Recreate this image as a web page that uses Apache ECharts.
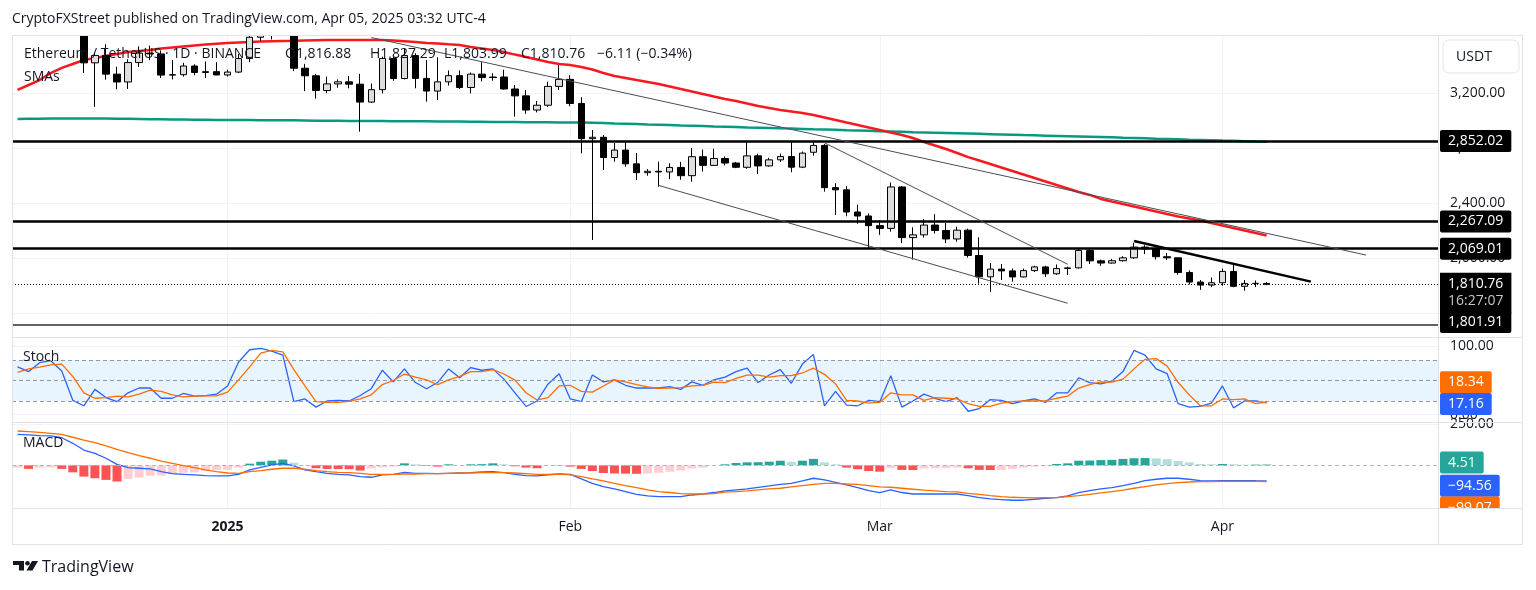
<!DOCTYPE html>
<html><head><meta charset="utf-8">
<script src="https://cdn.jsdelivr.net/npm/echarts@6/dist/echarts.min.js"></script>
<style>html,body{margin:0;padding:0;background:#fff}#c{width:1536px;height:590px}</style>
</head><body><div id="c"></div><script>
// ---------- data ----------
const startDate = '2024-12-13';
const dayCount = 129; // Dec 13 2024 .. Apr 20 2025 (last 15 days empty space)
const dates = [];
for (let k = 0, t = Date.parse(startDate + 'T00:00:00Z'); k < dayCount; k++, t += 86400000) dates.push(new Date(t).toISOString().slice(0, 10));

const openP = [3882,3907,3872,3959,3985,3874,3628,3420,3474,3338, 3281,3422,3491,3485,3331,3334,3397,3350,3356,3332, 3353,3451,3606,3657,3634,3687,3381,3326,3219,3267, 3282,3265,3135,3225,3452,3306,3473,3307,3215,3282, 3327,3241,3338,3313,3317,3230,3180,3077,3112,3249, 3300,3125,2869,2879,2732,2786,2686,2622,2632,2627, 2660,2600,2738,2675,2725,2692,2661,2744,2671,2715, 2739,2662,2770,2820,2513,2497,2336,2307,2237,2217, 2518,2150,2170,2241,2202,2140,2204,2020,1865,1921, 1908,1864,1910,1937,1887,1925,1930,2057,1981,1965, 1982,2003,2081,2068,2011,2003,1896,1827,1805,1822, 1904,1796,1817,1816.88];
const highP = [3950,3942,3970,4107,4040,3930,3705,3495,3555,3392, 3446,3540,3545,3510,3440,3420,3410,3430,3425,3370, 3485,3620,3670,3675,3745,3700,3413,3340,3320,3300, 3325,3340,3270,3465,3475,3525,3490,3440,3460,3365, 3365,3350,3425,3345,3370,3259,3223,3143,3283,3404, 3330,3170,2932,2895,2837,2847,2765,2648,2702,2690, 2700,2801,2790,2795,2740,2700,2845,2760,2730,2760, 2845,2775,2850,2830,2545,2525,2390,2325,2275,2550, 2525,2225,2285,2320,2258,2229,2215,2152,1965,1958, 1925,1925,1945,1945,1955,1939,2068,2070,1990,1995, 2015,2112,2095,2077,2038,2005,1912,1842,1860,1925, 1951,1842,1838,1827.29];
const lowP = [3860,3840,3850,3930,3880,3616,3346,3100,3298,3228, 3230,3390,3440,3310,3300,3320,3330,3310,3330,3320, 3346,3425,3580,3590,3620,3360,3215,3160,3200,3240, 3235,2920,3130,3198,3290,3300,3235,3138,3150,3255, 3230,3198,3285,3290,3225,3029,3050,3060,3100,3223, 3105,2762,2133,2641,2702,2665,2569,2600,2520,2575, 2570,2556,2630,2670,2675,2655,2650,2612,2665,2700, 2625,2655,2745,2484,2315,2305,2250,2074,2170,2193, 2110,1990,2150,2180,2110,2120,2005,1815,1756,1842, 1830,1860,1900,1864,1880,1878,1925,1958,1945,1960, 1975,1995,2030,1990,1987,1880,1810,1770,1790,1800, 1789,1764,1790,1803.99];
const closeP = [3907,3872,3959,3985,3874,3628,3420,3474,3338,3281, 3422,3491,3485,3331,3334,3397,3350,3356,3332,3353, 3451,3606,3657,3634,3687,3381,3326,3219,3267,3282, 3265,3135,3225,3452,3306,3473,3307,3215,3282,3327, 3241,3338,3313,3317,3230,3180,3077,3112,3249,3300, 3125,2869,2879,2732,2786,2686,2622,2632,2627,2660, 2600,2738,2675,2725,2692,2661,2744,2671,2715,2739, 2662,2764,2820,2513,2497,2336,2307,2237,2217,2518, 2150,2170,2241,2202,2140,2204,2020,1865,1921,1908, 1864,1910,1937,1887,1925,1930,2057,1981,1965,1982, 2003,2081,2068,2011,2003,1896,1827,1805,1822,1904, 1796,1817,1816.88,1810.76];

const smaRed = [3223,3259,3295,3346,3383,3412,3441,3455,3470,3484, 3499,3506,3513,3524,3532,3539,3546,3553,3559,3564, 3568,3571,3575,3577,3579,3580,3582,3584,3586,3586, 3586,3586,3586,3586,3582,3577,3571,3564,3561,3555, 3550,3535,3524,3513,3499,3480,3462,3444,3426,3412, 3404,3390,3372,3346,3324,3310,3295,3281,3266,3248, 3230,3212,3194,3175,3157,3143,3125,3106,3092,3077, 3066,3055,3041,3023,3005,2986,2968,2950,2932,2914, 2896,2874,2845,2819,2794,2765,2735,2710,2685,2659, 2634,2609,2583,2558,2532,2507,2481,2460,2431,2412, 2394,2376,2358,2340,2321,2303,2289,2274,2256,2238, 2220,2202,2183,2165];
const smaGreen = [3012,3013,3014,3015,3015,3016,3016,3015,3015,3014, 3013,3012,3011,3010,3009,3008,3007,3006,3005,3005, 3004,3004,3003,3003,3002,3002,3001,3000,3000,2999, 2998,2998,2997,2997,2996,2996,2995,2995,2994,2993, 2993,2992,2992,2991,2990,2990,2989,2989,2988,2987, 2987,2986,2984,2982,2979,2977,2975,2972,2970,2968, 2965,2963,2961,2958,2956,2954,2951,2949,2947,2944, 2942,2940,2937,2935,2933,2930,2928,2926,2923,2921, 2919,2916,2914,2912,2910,2908,2906,2904,2902,2900, 2898,2895,2893,2891,2889,2887,2885,2883,2881,2879, 2876,2874,2872,2869,2867,2865,2862,2860,2858,2855, 2853,2851,2848,2846];

const stochK = [70,63,76,79,64,21,13,37,25,19, 32,39,39,24,24,31,27,28,30,42, 77,95,97,93,87,19,23,11,20,21, 20,28,38,65,48,67,47,38,47,67, 54,69,65,67,52,32,12,20,45,60, 23,19,58,48,51,43,39,39,39,41, 37,48,43,51,55,63,68,47,58,66, 46,74,88,13,34,14,13,21,19,57, 11,20,30,24,19,25,5,9,22,21, 16,20,23,18,32,32,54,47,45,49, 63,94,87,67,60,16,11,12,17,42, 10,20,20,17.16];
const stochD = [62,67,69.5,73,74,56,32,24,25,27, 26,30,36,34,29,26,27,27.6,27.6,33, 51,70,90,94,92,66,42,19,18,18, 19.5,23,29,44,50,59.5,55,51,44,51, 56,63,63,66,59.5,50.5,32,21.5,25,42, 43,34,33,42,51,48,44,40.5,38.6,39, 39.5,42,43,47.6,47,53,58,58,55,57, 57,61,68,59,45,21,20,17,18,32, 29,29,21,25,24,23,16,12,12,17, 19,20,20,20.5,24,27,39,44,48,47.6, 52,67,81,82,71,47,29,13,13,23, 22,23,16,18.34];

const macdLine = [189,185,181,179,168,134,93,73,43,6, -14,-18,-22,-39,-51,-55,-59,-63,-65,-65, -55,-28,-12,2,12,-4,-28,-39,-49,-55, -59,-69,-73,-59,-55,-43,-49,-49,-51,-49, -47,-45,-41,-39,-45,-55,-63,-65,-59,-53, -55,-83,-110,-130,-144,-160,-177,-187,-191,-191, -191,-181,-175,-166,-156,-150,-144,-134,-126,-116, -110,-95,-79,-89,-104,-120,-136,-154,-166,-150, -166,-175,-175,-175,-175,-175,-185,-197,-205,-209, -213,-213,-207,-201,-197,-187,-166,-154,-144,-136, -124,-110,-93,-85,-79,-79,-85,-93,-95,-93, -93,-93,-94,-94.56];
const signalLine = [209,205,201,195,189,171,154,138,118,97, 77,59,43,26,12,-2,-14,-28,-39,-47, -49,-39,-32,-24,-18,-18,-24,-32,-39,-43, -45,-49,-55,-55,-55,-53,-53,-51,-51,-49, -47,-47,-45,-45,-45,-47,-51,-55,-55,-53, -59,-69,-83,-95,-110,-124,-136,-150,-160,-166, -173,-175,-175,-173,-164,-160,-156,-150,-144,-140, -132,-124,-116,-110,-110,-114,-116,-124,-132,-134, -140,-146,-152,-156,-160,-162,-171,-177,-185,-191, -195,-197,-199,-197,-197,-191,-185,-177,-168,-160, -152,-140,-130,-120,-112,-106,-102,-100,-100,-98, -98,-98,-98.5,-99.07];
const macdHist = [-14,-22,-14,-13,-22,-43,-69,-79,-89,-99, -83,-75,-64,-63,-51,-45,-43,-35,-28,-27, -14,10,22,28,35,16,0,-18,-22,-23, -24,-32,-20,-12,-8,12,6,-4,-8,6, 0,6,7,12,6,-6,-14,-18,-2,2, -8,-22,-35,-47,-50,-51,-52,-50,-45,-39, -32,-20,-14,-2,6,14,18,19,22,28, 22,28,39,18,6,-14,-24,-35,-39,-18, -28,-29,-20,-18,-17,-14,-18,-28,-29,-28, -22,-14,-8,-6,8,12,28,29,32,33, 39,43,44,42,37,26,18,8,6,8, 6,3.5,4,4.51];

const levelValues = [2852.02, 2267.09, 2069.01];
const lowLevelValue = 1515;          // drawn line near the pane bottom
const lowLevelText = '1,801.91';
const lastClose = 1810.76;
const countdown = '16:27:07';
const trendLines = [ // [dayIndex, price] pairs
  [[32, 3604], [122, 2023]],
  [[73, 2839], [95, 1956]],
  [[58, 2529], [95, 1673]],
  [[101, 2125], [117, 1830]]
];
const monthLabels = {'2025-01-01': '{b|2025}', '2025-02-01': 'Feb', '2025-03-01': 'Mar', '2025-04-01': 'Apr'};
const priceTicks = [1600, 2000, 2400, 2800, 3200];
const stochTicks = [0, 100];
const macdTicks = [250];
const header = 'CryptoFXStreet published on TradingView.com, Apr 05, 2025 03:32 UTC-4';
const legendParts = ['Ethereum / TetherUS · 1D · BINANCE', 'O1,816.88', 'H1,827.29', 'L1,803.99', 'C1,810.76', '−6.11 (−0.34%)'];

// ---------- chart ----------
const FONT = '"Open Sans", Roboto, "Noto Sans", sans-serif';
const INK = '#131722';
const chart = echarts.init(document.getElementById('c'), null, {renderer: 'canvas'});
const fmt2 = v => v.toLocaleString('en-US', {minimumFractionDigits: 2, maximumFractionDigits: 2}).replace('-', '−');
const isMonth = (idx, val) => monthLabels[val] !== undefined;

const gridBase = {left: 12, right: 98, outerBoundsMode: 'none'};
const grids = [
  Object.assign({top: 35, height: 302}, gridBase),
  Object.assign({top: 337, height: 85}, gridBase),
  Object.assign({top: 422, height: 86}, gridBase)
];
const xAxes = [0, 1, 2].map(g => ({
  type: 'category', gridIndex: g, data: dates, boundaryGap: true,
  axisLine: {show: false}, axisTick: {show: false, alignWithLabel: true},
  axisLabel: {show: g === 2, interval: isMonth, formatter: v => monthLabels[v] || '', margin: 12,
    color: INK, fontSize: 14, fontFamily: FONT,
    rich: {b: {fontWeight: 'bold', fontSize: 14, color: INK, fontFamily: FONT}}},
  splitLine: {show: true, interval: isMonth, alignWithLabel: true, lineStyle: {color: '#f0f3fa', width: 1}}
}));
function yAx(g, min, max, ticks) {
  return {type: 'value', gridIndex: g, position: 'right', min, max,
    axisLine: {show: false}, axisTick: {show: false, customValues: ticks},
    axisLabel: {customValues: ticks, formatter: v => fmt2(v), color: INK, fontSize: 14, fontFamily: FONT, margin: 12},
    splitLine: {show: true, lineStyle: {color: '#f0f3fa', width: 1}}};
}
const yAxes = [yAx(0, 1427.6, 3622.4, priceTicks), yAx(1, -10.74, 113.66, stochTicks), yAx(2, -260.4, 264, macdTicks)];

const candles = openP.map((o, i) => [o, closeP[i], lowP[i], highP[i]]);
const histData = macdHist.map((v, i) => {
  const p = i ? macdHist[i - 1] : v - 1;
  const c = v >= 0 ? (p < v ? '#26A69A' : '#B2DFDB') : (p < v ? '#FFCDD2' : '#FF5252');
  return {value: v, itemStyle: {color: c}};
});

const priceMarks = [];
levelValues.forEach(v => priceMarks.push({yAxis: v, lineStyle: {color: '#000', width: 2.5, type: 'solid'}}));
priceMarks.push({yAxis: lowLevelValue, lineStyle: {color: '#2a2e39', width: 1.5, type: 'solid'}});
priceMarks.push({yAxis: lastClose, lineStyle: {color: '#000', width: 1, type: [1, 2]}});
trendLines.forEach((t, k) => priceMarks.push([
  {coord: t[0], lineStyle: {color: k === 3 ? '#000' : '#4a4d57', width: k === 3 ? 2.5 : 1, type: 'solid'}},
  {coord: t[1]}
]));

const lineS = (name, data, color, width, xi, yi, z) => ({name, type: 'line', data, xAxisIndex: xi, yAxisIndex: yi,
  showSymbol: false, symbol: 'none', smooth: false, z: z || 3, silent: true,
  lineStyle: {color, width}});

const option = {
  animation: false,
  backgroundColor: '#ffffff',
  textStyle: {fontFamily: FONT},
  grid: grids, xAxis: xAxes, yAxis: yAxes,
  series: [
    lineS('SMA 200', smaGreen, '#089981', 2.5, 0, 0, 2),
    lineS('SMA 50', smaRed, '#F7191F', 2.5, 0, 0, 2),
    {name: 'ETHUSDT', type: 'candlestick', data: candles, xAxisIndex: 0, yAxisIndex: 0, barWidth: 7, clip: true, z: 4, silent: true,
      itemStyle: {color: '#dedede', color0: '#000000', borderColor: '#000000', borderColor0: '#000000', borderWidth: 1},
      markLine: {symbol: ['none', 'none'], silent: true, animation: false, label: {show: false}, data: priceMarks}},
    Object.assign(lineS('%K', stochK, '#2962FF', 1.3, 1, 1, 4), {
      markArea: {silent: true, itemStyle: {color: 'rgba(33,150,243,0.1)'}, data: [[{yAxis: 80}, {yAxis: 20}]]},
      markLine: {symbol: ['none', 'none'], silent: true, label: {show: false},
        lineStyle: {color: '#9598a1', width: 1, type: [4, 3]},
        data: [{yAxis: 80}, {yAxis: 50}, {yAxis: 20}]}}),
    lineS('%D', stochD, '#FF6D00', 1.3, 1, 1, 5),
    {name: 'Histogram', type: 'bar', data: histData, xAxisIndex: 2, yAxisIndex: 2, barWidth: 9, silent: true, z: 2,
      markLine: {symbol: ['none', 'none'], silent: true, label: {show: false},
        lineStyle: {color: '#b2b5be', width: 1, type: [4, 3]}, data: [{yAxis: 0}]}},
    lineS('MACD', macdLine, '#2962FF', 1.3, 2, 2, 4),
    lineS('Signal', signalLine, '#FF6D00', 1.3, 2, 2, 5)
  ]
};
chart.setOption(option);

// ---------- overlay texts / tags ----------
const py = (axis, v) => chart.convertToPixel({yAxisIndex: axis}, v);
const G = [];
// white strip above the price pane (hides candle parts beyond the pane top)
G.push({type: 'rect', z: 45, silent: true, shape: {x: 0, y: 0, width: 1536, height: 35}, style: {fill: '#ffffff'}});
const text = (x, y, t, font, extra) => G.push({type: 'text', x, y, z: 50, silent: true,
  style: Object.assign({text: t, fill: INK, font: font || `14px ${FONT}`, verticalAlign: 'middle', align: 'left'}, extra || {})});
text(12, 19, header, `14px ${FONT}`);
const legendX = [24, 285, 370, 444, 521, 597];
legendParts.forEach((t, k) => text(legendX[k], 54, t, `14px ${FONT}`));
text(24, 77, 'SMAs', `14px ${FONT}`);
text(23, 357, 'Stoch', `14px ${FONT}`);
text(23, 443, 'MACD', `14px ${FONT}`);

const tag = (axis, v, t, bg, dy) => G.push({type: 'text', x: 1440, y: py(axis, v) + (dy || 0), z: 52, silent: true,
  style: {text: t, fill: '#ffffff', font: `14px ${FONT}`, backgroundColor: bg, padding: [4, 8, 4, 8], borderRadius: 2,
    verticalAlign: 'middle', align: 'left'}});
levelValues.forEach(v => tag(0, v, fmt2(v), '#000000', 0));
G.push({type: 'text', x: 1440, y: py(0, lastClose) - 11.5, z: 52, silent: true,
  style: {text: '{a|' + fmt2(lastClose) + '}\n{b|' + countdown + '}', backgroundColor: '#000000', padding: [3, 8, 4, 8],
    verticalAlign: 'top', align: 'left',
    rich: {a: {fill: '#ffffff', font: `14px ${FONT}`, lineHeight: 17}, b: {fill: '#c3c5cc', font: `14px ${FONT}`, lineHeight: 17}}}});
tag(0, lowLevelValue, lowLevelText, '#000000', -3);
tag(1, stochD[stochD.length - 1], fmt2(stochD[stochD.length - 1]), '#FF6D00', -20);
tag(1, stochK[stochK.length - 1], fmt2(stochK[stochK.length - 1]), '#2962FF', 1);
tag(2, macdHist[macdHist.length - 1], fmt2(macdHist[macdHist.length - 1]), '#26A69A', -2);
tag(2, macdLine[macdLine.length - 1], fmt2(macdLine[macdLine.length - 1]), '#2962FF', 5);
tag(2, signalLine[signalLine.length - 1], fmt2(signalLine[signalLine.length - 1]), '#FF6D00', 26);

// cover under the last pane on the price scale (clips the lowest tag)
G.push({type: 'rect', z: 55, silent: true, shape: {x: 1439, y: 508.5, width: 83, height: 36}, style: {fill: '#ffffff'}});
// USDT button
G.push({type: 'rect', z: 56, silent: true, shape: {x: 1443, y: 40, width: 76, height: 33, r: 6}, style: {fill: '#ffffff', stroke: '#e0e3eb', lineWidth: 1}});
G.push({type: 'text', z: 57, silent: true, x: 1474, y: 57, style: {text: 'USDT', fill: INK, font: `14px ${FONT}`, align: 'center', verticalAlign: 'middle'}});
// frame and pane separators
const ln = (x1, y1, x2, y2, c) => G.push({type: 'line', z: 60, silent: true, shape: {x1, y1, x2, y2}, style: {stroke: c || '#e0e3eb', lineWidth: 1}});
ln(12.5, 35, 12.5, 545); ln(1522.5, 35, 1522.5, 545); ln(12, 35.5, 1522, 35.5); ln(12, 544.5, 1522, 544.5);
ln(12, 337.5, 1522, 337.5); ln(12, 422.5, 1522, 422.5); ln(12, 508.5, 1522, 508.5);
ln(1438.5, 35, 1438.5, 545);
// TradingView logo
G.push({type: 'polygon', z: 50, silent: true, shape: {points: [[13, 561], [24, 561], [24, 570.5], [19, 570.5], [19, 565], [13, 565]]}, style: {fill: INK}});
G.push({type: 'circle', z: 50, silent: true, shape: {cx: 27.5, cy: 563.2, r: 2.3}, style: {fill: INK}});
G.push({type: 'polygon', z: 50, silent: true, shape: {points: [[32, 561], [38, 561], [32.5, 570.5], [26.5, 570.5]]}, style: {fill: INK}});
text(42, 567, 'TradingView', `16px ${FONT}`);

chart.setOption({graphic: G});
</script></body></html>
